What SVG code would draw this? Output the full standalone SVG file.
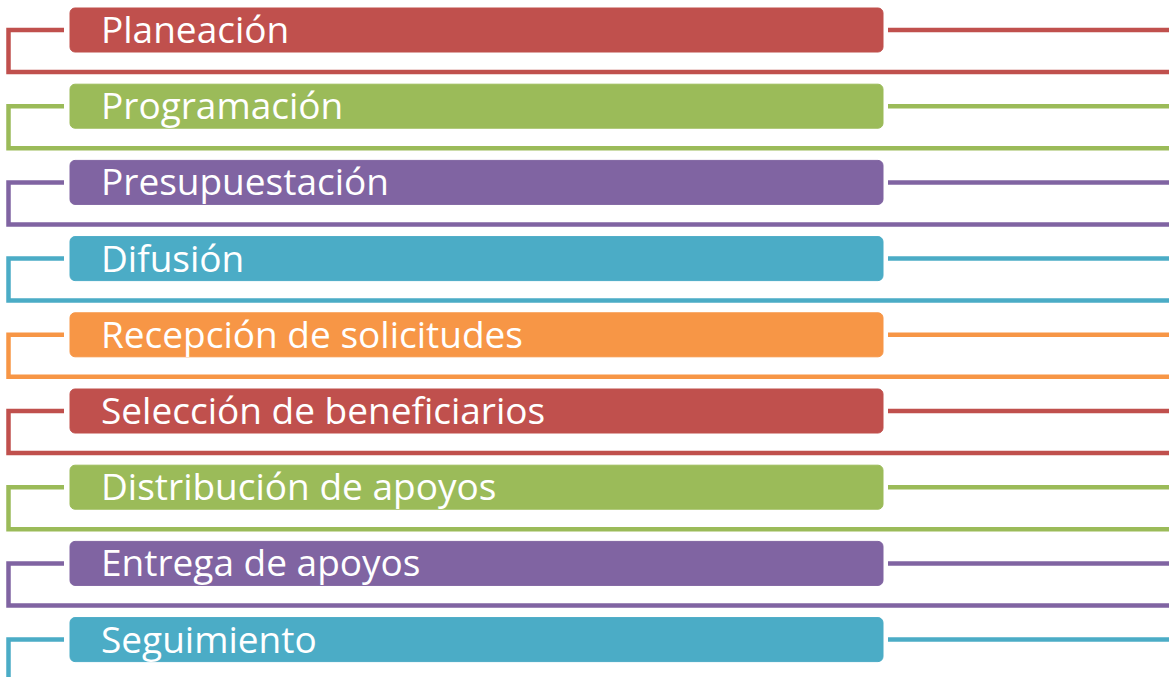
<svg xmlns="http://www.w3.org/2000/svg" width="1169" height="677" viewBox="0 0 1169 677">
<style>
.bar{stroke:none}
.t{font-family:"Open Sans","Liberation Sans",sans-serif;font-size:37px;fill:#ffffff}
.ln{fill:none;stroke-width:4.5;stroke-linejoin:miter}
.red{fill:#C0504D;stroke:#C0504D}
.grn{fill:#9BBB59;stroke:#9BBB59}
.pur{fill:#8064A2;stroke:#8064A2}
.cyn{fill:#4BACC6;stroke:#4BACC6}
.org{fill:#F79646;stroke:#F79646}
.ln.red,.ln.grn,.ln.pur,.ln.cyn,.ln.org{fill:none}
</style>
<rect width="1169" height="677" fill="#ffffff"/>
<g id="connectors">
<g transform="translate(0,0)"><path class="ln red" d="M64 30H8.5V72H1169"/><path class="ln red" d="M888 30H1169"/></g>
<g transform="translate(0,76.2)"><path class="ln grn" d="M64 30H8.5V72H1169"/><path class="ln grn" d="M888 30H1169"/></g>
<g transform="translate(0,152.4)"><path class="ln pur" d="M64 30H8.5V72H1169"/><path class="ln pur" d="M888 30H1169"/></g>
<g transform="translate(0,228.6)"><path class="ln cyn" d="M64 30H8.5V72H1169"/><path class="ln cyn" d="M888 30H1169"/></g>
<g transform="translate(0,304.8)"><path class="ln org" d="M64 30H8.5V72H1169"/><path class="ln org" d="M888 30H1169"/></g>
<g transform="translate(0,381)"><path class="ln red" d="M64 30H8.5V72H1169"/><path class="ln red" d="M888 30H1169"/></g>
<g transform="translate(0,457.2)"><path class="ln grn" d="M64 30H8.5V72H1169"/><path class="ln grn" d="M888 30H1169"/></g>
<g transform="translate(0,533.4)"><path class="ln pur" d="M64 30H8.5V72H1169"/><path class="ln pur" d="M888 30H1169"/></g>
<g transform="translate(0,609.6)"><path class="ln cyn" d="M64 30H8.5V72H1169"/><path class="ln cyn" d="M888 30H1169"/></g>
</g>
<g id="n1" transform="translate(0,0)"><rect class="bar red" x="70" y="8" width="813" height="44" rx="5"/><text class="t" x="101" y="43">Planeación</text></g>
<g id="n2" transform="translate(0,76.2)"><rect class="bar grn" x="70" y="8" width="813" height="44" rx="5"/><text class="t" x="101" y="43">Programación</text></g>
<g id="n3" transform="translate(0,152.4)"><rect class="bar pur" x="70" y="8" width="813" height="44" rx="5"/><text class="t" x="101" y="43">Presupuestación</text></g>
<g id="n4" transform="translate(0,228.6)"><rect class="bar cyn" x="70" y="8" width="813" height="44" rx="5"/><text class="t" x="101" y="43">Difusión</text></g>
<g id="n5" transform="translate(0,304.8)"><rect class="bar org" x="70" y="8" width="813" height="44" rx="5"/><text class="t" x="101" y="43">Recepción de solicitudes</text></g>
<g id="n6" transform="translate(0,381)"><rect class="bar red" x="70" y="8" width="813" height="44" rx="5"/><text class="t" x="101" y="43">Selección de beneficiarios</text></g>
<g id="n7" transform="translate(0,457.2)"><rect class="bar grn" x="70" y="8" width="813" height="44" rx="5"/><text class="t" x="101" y="43">Distribución de apoyos</text></g>
<g id="n8" transform="translate(0,533.4)"><rect class="bar pur" x="70" y="8" width="813" height="44" rx="5"/><text class="t" x="101" y="43">Entrega de apoyos</text></g>
<g id="n9" transform="translate(0,609.6)"><rect class="bar cyn" x="70" y="8" width="813" height="44" rx="5"/><text class="t" x="101" y="43">Seguimiento</text></g>
</svg>
